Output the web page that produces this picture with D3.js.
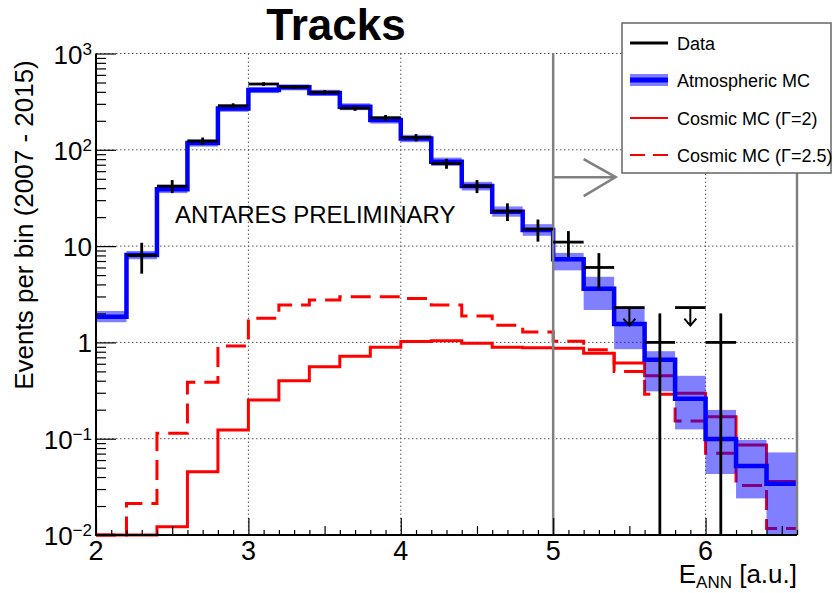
<!DOCTYPE html>
<html><head><meta charset="utf-8">
<script src="https://cdn.jsdelivr.net/npm/d3@7"></script>
<style>
html,body{margin:0;padding:0;background:#fff;}
svg{display:block;font-family:"Liberation Sans",Arial,Helvetica,sans-serif;}
</style></head><body>
<svg id="chart" width="833" height="593"></svg>
<script>
// Bin edges of the E_ANN histogram (a.u.)
const binEdges = [2.0,2.2,2.4,2.6,2.8,3.0,3.2,3.4,3.6,3.8,4.0,4.2,4.4,4.6,4.8,5.0,5.2,5.4,5.6,5.8,6.0,6.2,6.4,6.6];
// Atmospheric MC expectation per bin and its uncertainty band
const atmosphericMC   = [1.85,8.1,39,118,269,418,445,390,280,204,131,75,42,22.8,14.7,7.3,3.6,1.55,0.66,0.26,0.099,0.052,0.034];
const atmosphericLow  = [1.62,7.3,35.5,108,248,388,414,362,258,187,120,68,37.8,20.2,12.8,5.6,2.17,0.85,0.31,0.125,0.043,0.024,0.005];
const atmosphericHigh = [2.12,8.9,43,129,291,450,478,420,304,222,143,83,46.5,25.8,16.9,8.5,4.8,2.3,0.81,0.45,0.199,0.097,0.072];
// Cosmic neutrino MC for two spectral indices
const cosmicG2  = [0.008,0.008,0.0122,0.0454,0.123,0.252,0.40,0.56,0.72,0.89,1.02,1.04,0.98,0.89,0.88,0.87,0.77,0.61,0.45,0.296,0.169,0.086,0.036];
const cosmicG25 = [0.008,0.0213,0.114,0.385,0.92,1.78,2.44,2.75,2.98,2.98,2.86,2.44,1.88,1.51,1.28,1.03,0.84,0.50,0.29,0.153,0.0705,0.0327,0.0117];
// Observed events per bin (null = not shown, 0 = drawn as upper limit)
const dataCounts = [null,8,42,123,287,482,450,396,270,215,134,72,42,23,15,11,6,0,1,0,1,null,null];
const zeroCountLimit = 2.3;
// Axis ticks and labels
const xTickValues = [2,3,4,5,6];
const yTickValues = [0.01,0.1,1,10,100,1000];
const yTickBase = ["10","10","1","10","10","10"];
const yTickExp  = ["\u22122","\u22121","","","2","3"];
const cutValue = 5;

const svg = d3.select("#chart");
const x = d3.scaleLinear().domain([binEdges[0], binEdges[binEdges.length-1]]).range([96, 797]);
const y = d3.scaleLog().domain([0.01, 1000]).range([535, 53.5]).clamp(true);
const yv = v => y(Math.max(v, 1e-4));
const X0 = x.range()[0], X1 = x.range()[1], Y0 = y.range()[0], Y1 = y.range()[1];

function stepPath(vals) {
  const pts = vals.map((v, i) => [binEdges[i], v]);
  pts.push([binEdges[vals.length], vals[vals.length - 1]]);
  return d3.line().x(d => x(d[0])).y(d => yv(d[1])).curve(d3.curveStepAfter)(pts);
}

// grid
const grid = svg.append("g").attr("stroke", "#555").attr("stroke-width", 1).attr("stroke-dasharray", "1.5,2.5");
[3,4,5,6].forEach(v => grid.append("line").attr("x1", x(v)).attr("x2", x(v)).attr("y1", Y0).attr("y2", Y1));
[0.1,1,10,100,1000].forEach(v => grid.append("line").attr("x1", X0).attr("x2", X1).attr("y1", y(v)).attr("y2", y(v)));

// cosmic MC curves
svg.append("path").attr("d", stepPath(cosmicG2)).attr("fill", "none").attr("stroke", "#ff0000").attr("stroke-width", 3);
svg.append("path").attr("d", stepPath(cosmicG25)).attr("fill", "none").attr("stroke", "#ff0000").attr("stroke-width", 3).attr("stroke-dasharray", "20,9");

// atmospheric MC band and line
svg.append("g").selectAll("rect").data(atmosphericMC).join("rect")
  .attr("x", (d, i) => x(binEdges[i])).attr("width", (d, i) => x(binEdges[i+1]) - x(binEdges[i]))
  .attr("y", (d, i) => yv(atmosphericHigh[i])).attr("height", (d, i) => yv(atmosphericLow[i]) - yv(atmosphericHigh[i]))
  .attr("fill", "#0000ff").attr("fill-opacity", 0.5);
svg.append("path").attr("d", stepPath(atmosphericMC)).attr("fill", "none").attr("stroke", "#0000ff").attr("stroke-width", 4.5);

// signal region boundaries and arrow
const box = svg.append("g").attr("stroke", "#808080").attr("stroke-width", 2.5).attr("fill", "none");
box.append("line").attr("x1", x(cutValue)).attr("x2", x(cutValue)).attr("y1", Y1).attr("y2", Y0);
box.append("line").attr("x1", X1).attr("x2", X1).attr("y1", Y1).attr("y2", Y0);
const ay = y(52), ax = x(5.41);
box.append("path").attr("d", `M${x(cutValue)},${ay}H${ax}M${ax-32},${ay-18}L${ax},${ay}L${ax-32},${ay+19}`);

// data
const dg = svg.append("g").attr("stroke", "#000").attr("stroke-width", 2.8).attr("fill", "none");
dataCounts.forEach((n, i) => {
  if (n === null) return;
  const xa = x(binEdges[i]), xb = x(binEdges[i+1]), xm = (xa + xb) / 2;
  if (n === 0) {
    const yl = y(zeroCountLimit);
    dg.append("line").attr("x1", xa).attr("x2", xb).attr("y1", yl).attr("y2", yl);
    dg.append("path").attr("stroke-width", 2).attr("d", `M${xm},${yl}V${yl+18}M${xm-6},${yl+11}L${xm},${yl+18}L${xm+6},${yl+11}`);
  } else {
    const e = Math.sqrt(n);
    dg.append("line").attr("x1", xa).attr("x2", xb).attr("y1", y(n)).attr("y2", y(n));
    dg.append("line").attr("x1", xm).attr("x2", xm).attr("y1", yv(n + e)).attr("y2", yv(n - e));
  }
});

// axes
const yMinor = [];
[-2,-1,0,1,2].forEach(k => { for (let m = 2; m <= 9; m++) yMinor.push(m * Math.pow(10, k)); });
const axY1 = svg.append("g").attr("transform", `translate(${X0},0)`).call(d3.axisRight(y).tickValues(yTickValues).tickSize(20).tickSizeOuter(0).tickFormat(""));
const axY2 = svg.append("g").attr("transform", `translate(${X0},0)`).call(d3.axisRight(y).tickValues(yMinor).tickSize(10).tickSizeOuter(0).tickFormat(""));
const xMid = [2.5,3.5,4.5,5.5,6.5];
const xSmall = [];
for (let i = 0; i <= 46; i++) { const v = +(2 + i * 0.1).toFixed(1); if (v % 0.5 !== 0) xSmall.push(v); }
const axX1 = svg.append("g").attr("transform", `translate(0,${Y0})`).call(d3.axisTop(x).tickValues(xTickValues).tickSize(17).tickSizeOuter(0).tickFormat(""));
const axX2 = svg.append("g").attr("transform", `translate(0,${Y0})`).call(d3.axisTop(x).tickValues(xMid).tickSize(9).tickSizeOuter(0).tickFormat(""));
const axX3 = svg.append("g").attr("transform", `translate(0,${Y0})`).call(d3.axisTop(x).tickValues(xSmall).tickSize(5).tickSizeOuter(0).tickFormat(""));
[axY1, axY2, axX1, axX2, axX3].forEach(a => { a.select(".domain").remove(); a.selectAll("line").attr("stroke", "#000").attr("stroke-width", 1.2); });
svg.append("path").attr("d", `M${X0},${Y1}V${Y0}H${X1}`).attr("fill", "none").attr("stroke", "#000").attr("stroke-width", 2);

// tick labels
const yl = svg.append("g").attr("font-size", 26).attr("text-anchor", "end").attr("fill", "#000");
yTickValues.forEach((v, i) => {
  const t = yl.append("text").attr("x", 92).attr("y", y(v) + 10);
  t.append("tspan").text(yTickBase[i]);
  if (yTickExp[i]) t.append("tspan").attr("font-size", 17).attr("dy", -9).text(yTickExp[i]);
});
svg.append("g").attr("font-size", 27).attr("text-anchor", "middle").selectAll("text").data(xTickValues).join("text")
  .attr("x", d => x(d)).attr("y", 560).text(d => d);

// axis titles
svg.append("text").attr("transform", "translate(33,225) rotate(-90)").attr("text-anchor", "middle").attr("font-size", 26).text("Events per bin (2007 - 2015)");
const xt = svg.append("text").attr("x", X1).attr("y", 583).attr("text-anchor", "end").attr("font-size", 26);
xt.append("tspan").text("E");
xt.append("tspan").attr("font-size", 17).attr("dy", 5).text("ANN");
xt.append("tspan").attr("dy", -5).text(" [a.u.]");

svg.append("text").attr("x", 175).attr("y", 223).attr("font-size", 24).text("ANTARES PRELIMINARY");

// legend
const lg = svg.append("g");
lg.append("rect").attr("x", 622).attr("y", 23).attr("width", 209).attr("height", 150).attr("fill", "#fff").attr("stroke", "#666").attr("stroke-width", 1.5);
const rows = [
  {label: "Data", y: 43},
  {label: "Atmospheric MC", y: 80},
  {label: "Cosmic MC (\u0393=2)", y: 118},
  {label: "Cosmic MC (\u0393=2.5)", y: 155}
];
lg.append("line").attr("x1", 630).attr("x2", 668).attr("y1", rows[0].y).attr("y2", rows[0].y).attr("stroke", "#000").attr("stroke-width", 3);
lg.append("rect").attr("x", 630).attr("width", 38).attr("y", rows[1].y - 6).attr("height", 12).attr("fill", "#0000ff").attr("fill-opacity", 0.5);
lg.append("line").attr("x1", 630).attr("x2", 668).attr("y1", rows[1].y).attr("y2", rows[1].y).attr("stroke", "#0000ff").attr("stroke-width", 5);
lg.append("line").attr("x1", 630).attr("x2", 668).attr("y1", rows[2].y).attr("y2", rows[2].y).attr("stroke", "#ff0000").attr("stroke-width", 2);
lg.append("line").attr("x1", 630).attr("x2", 668).attr("y1", rows[3].y).attr("y2", rows[3].y).attr("stroke", "#ff0000").attr("stroke-width", 2).attr("stroke-dasharray", "15,8");
lg.selectAll("text.lab").data(rows).join("text").attr("class", "lab")
  .attr("x", 677).attr("y", d => d.y + 6.5).attr("font-size", 18).text(d => d.label);

// title
svg.append("text").attr("x", 336).attr("y", 40).attr("text-anchor", "middle").attr("font-size", 44).attr("font-weight", "bold").text("Tracks");
</script>
</body></html>
